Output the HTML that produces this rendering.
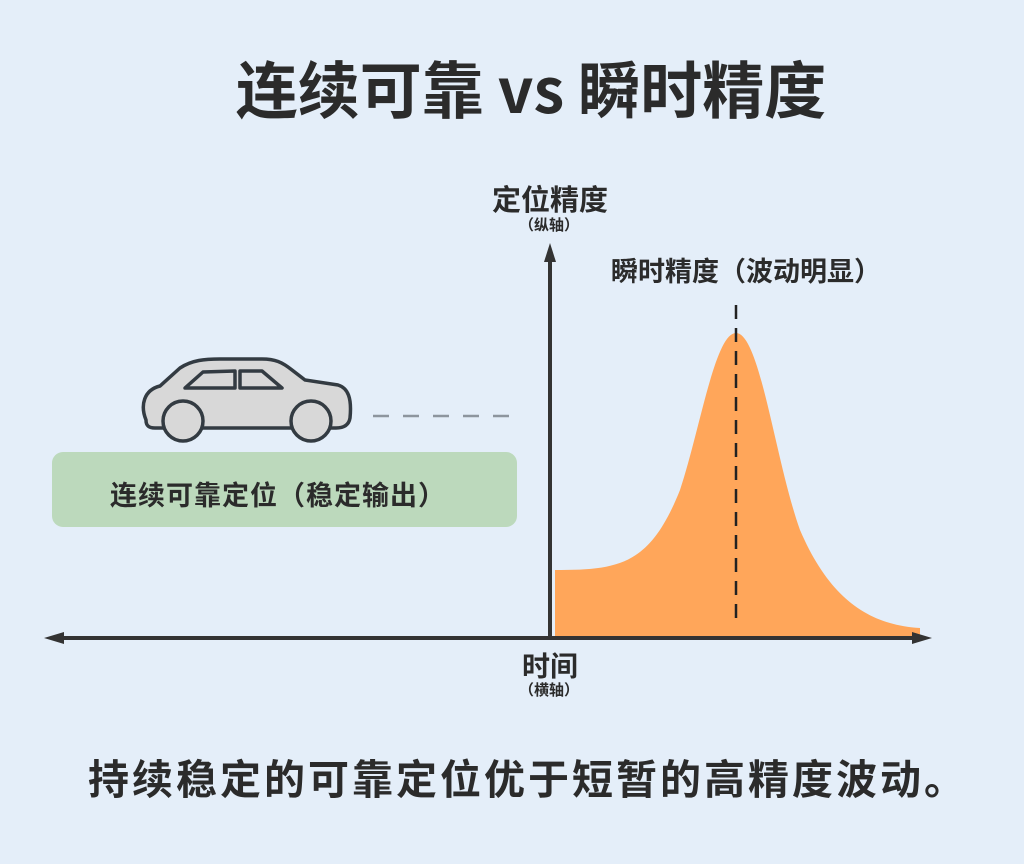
<!DOCTYPE html><html><head><meta charset="utf-8"><style>
body{margin:0;width:1024px;height:864px;background:#e4eef9;font-family:"Liberation Sans","Noto Sans CJK SC",sans-serif;color:#2b2b2b;position:relative;overflow:hidden}
.t{position:absolute;font-weight:bold;white-space:nowrap;font-family:"Noto Sans CJK SC","Liberation Sans",sans-serif}
</style></head><body>
<div class="t" style="left:0;width:1062px;text-align:center;top:46px;font-size:62px;line-height:80px">连续可靠 vs 瞬时精度</div>
<svg width="1024" height="864" style="position:absolute;left:0;top:0">
<path d="M555 570 C620 570 650 565 680 490 C700 430 715 333 736 333 C760 333 775 460 800 530 C830 600 870 625 920 628 L920 638 L555 638 Z" fill="#ffa65a"/>
<line x1="736" y1="305" x2="736" y2="626" stroke="#222" stroke-width="2.5" stroke-dasharray="14,9"/>
<line x1="550" y1="255" x2="550" y2="638" stroke="#333" stroke-width="4"/>
<polygon points="550,243 544,262 556,262" fill="#333"/>
<line x1="55" y1="638" x2="920" y2="638" stroke="#333" stroke-width="4"/>
<polygon points="44,638 64,632 64,644" fill="#333"/>
<polygon points="932,638 912,632 912,644" fill="#333"/>
<line x1="373" y1="416" x2="512" y2="416" stroke="#8d959e" stroke-width="2.5" stroke-dasharray="16,14"/>
<rect x="52" y="452" width="465" height="75" rx="11" fill="#bcd9bc"/>
<path d="M146 420 C140 405 144 390 160 386 L180 368 C192 360 205 359 220 359 L262 359 C275 359 282 362 292 370 L305 380 L338 385 C348 388 352 398 350 418 C349 424 345 428 336 428 L155 428 C148 428 146 425 146 420 Z" fill="#d8d8d8" stroke="#333b42" stroke-width="3.5"/>
<path d="M185 388 L203 372 L235 371 L235 388 Z M240 371 L262 371 L282 388 L240 388 Z" fill="#d8d8d8" stroke="#333b42" stroke-width="3.5" stroke-linejoin="round"/>
<circle cx="183" cy="421" r="20" fill="#d8d8d8" stroke="#333b42" stroke-width="3.5"/>
<circle cx="311" cy="421" r="20" fill="#d8d8d8" stroke="#333b42" stroke-width="3.5"/>
</svg>
<div class="t" style="left:110px;top:474px;font-size:27px;line-height:40px;letter-spacing:1px">连续可靠定位（稳定输出）</div>
<div class="t" style="left:492px;top:178px;font-size:29px;line-height:40px">定位精度</div>
<div class="t" style="left:519px;top:215px;font-size:15px;line-height:20px">（纵轴）</div>
<div class="t" style="left:611px;top:250px;font-size:27px;line-height:40px">瞬时精度（波动明显）</div>
<div class="t" style="left:522px;top:646px;font-size:28px;line-height:38px">时间</div>
<div class="t" style="left:519px;top:680px;font-size:15px;line-height:20px">（横轴）</div>
<div class="t" style="left:88px;top:750px;font-size:41px;line-height:52px;letter-spacing:3px">持续稳定的可靠定位优于短暂的高精度波动。</div>
</body></html>
